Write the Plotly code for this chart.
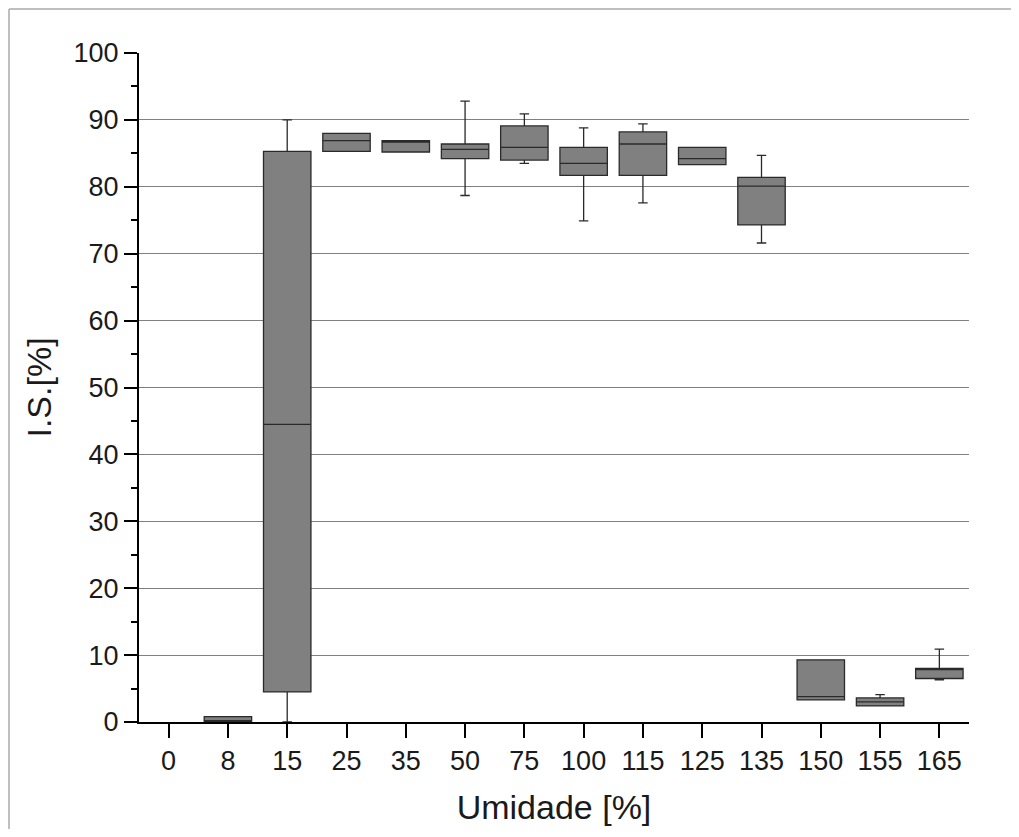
import plotly.graph_objects as go

categories = ["0", "8", "15", "25", "35", "50", "75", "100", "115", "125", "135", "150", "155", "165"]
box_x = ["8", "15", "25", "35", "50", "75", "100", "115", "125", "135", "150", "155", "165"]
q1 = [0.0, 4.5, 85.3, 85.2, 84.2, 84.0, 81.7, 81.7, 83.3, 74.3, 3.3, 2.4, 6.5]
median = [0.2, 44.5, 86.9, 86.7, 85.6, 85.9, 83.5, 86.4, 84.2, 80.1, 3.8, 3.0, 7.9]
q3 = [0.8, 85.3, 88.0, 86.9, 86.4, 89.1, 85.9, 88.2, 85.9, 81.4, 9.3, 3.6, 8.0]
lowerfence = [0.0, 0.0, 85.3, 85.2, 78.7, 83.5, 74.9, 77.6, 83.3, 71.6, 3.3, 2.4, 6.3]
upperfence = [0.8, 90.0, 88.0, 86.9, 92.8, 90.9, 88.8, 89.4, 85.9, 84.7, 9.3, 4.1, 10.9]

y_ticks = [0, 10, 20, 30, 40, 50, 60, 70, 80, 90, 100]

fig = go.Figure()
fig.add_trace(go.Box(
    x=box_x, q1=q1, median=median, q3=q3,
    lowerfence=lowerfence, upperfence=upperfence,
    fillcolor="#808080", line=dict(color="#2a2a2a", width=1.3),
    width=0.8, whiskerwidth=0.2, showlegend=False, boxpoints=False,
))

W, H = 1011, 821
L, T = 131, 45
pw, ph = 830, 669
R, B = W - L - pw, H - T - ph

fx0 = (-L + 1) / pw
fy1 = 1 + (T - 1) / ph

fig.update_layout(
    width=W, height=H,
    margin=dict(l=L, r=R, t=T, b=B),
    plot_bgcolor="white", paper_bgcolor="white",
    font=dict(family="Liberation Sans, Arial, sans-serif", color="#1a1a1a"),
    xaxis=dict(
        type="category", categoryorder="array", categoryarray=categories,
        range=[-0.5, 13.5], showline=True, linecolor="black", linewidth=2,
        ticks="outside", ticklen=14, tickwidth=2, tickcolor="black",
        showgrid=False, zeroline=False, automargin=False,
        tickfont=dict(size=27),
        title=dict(text="Umidade [%]", font=dict(size=34), standoff=20),
    ),
    yaxis=dict(
        range=[0, 100], tickvals=y_ticks, showline=True, linecolor="black", linewidth=2,
        ticks="outside", ticklen=13, tickwidth=2, tickcolor="black",
        minor=dict(dtick=5, ticks="outside", ticklen=6, tickwidth=2, tickcolor="black", showgrid=False),
        showgrid=True, gridcolor="#808080", gridwidth=1, zeroline=False, automargin=False,
        tickfont=dict(size=27),
        title=dict(text="I.S.[%]", font=dict(size=34), standoff=12),
    ),
    shapes=[
        dict(type="line", xref="paper", yref="paper", x0=fx0, x1=1.2, y0=fy1, y1=fy1,
             line=dict(color="#aaaaaa", width=1.5), layer="below"),
        dict(type="line", xref="paper", yref="paper", x0=fx0, x1=fx0, y0=-0.3, y1=fy1,
             line=dict(color="#aaaaaa", width=1.5), layer="below"),
    ],
)

fig.write_html("out.html")
